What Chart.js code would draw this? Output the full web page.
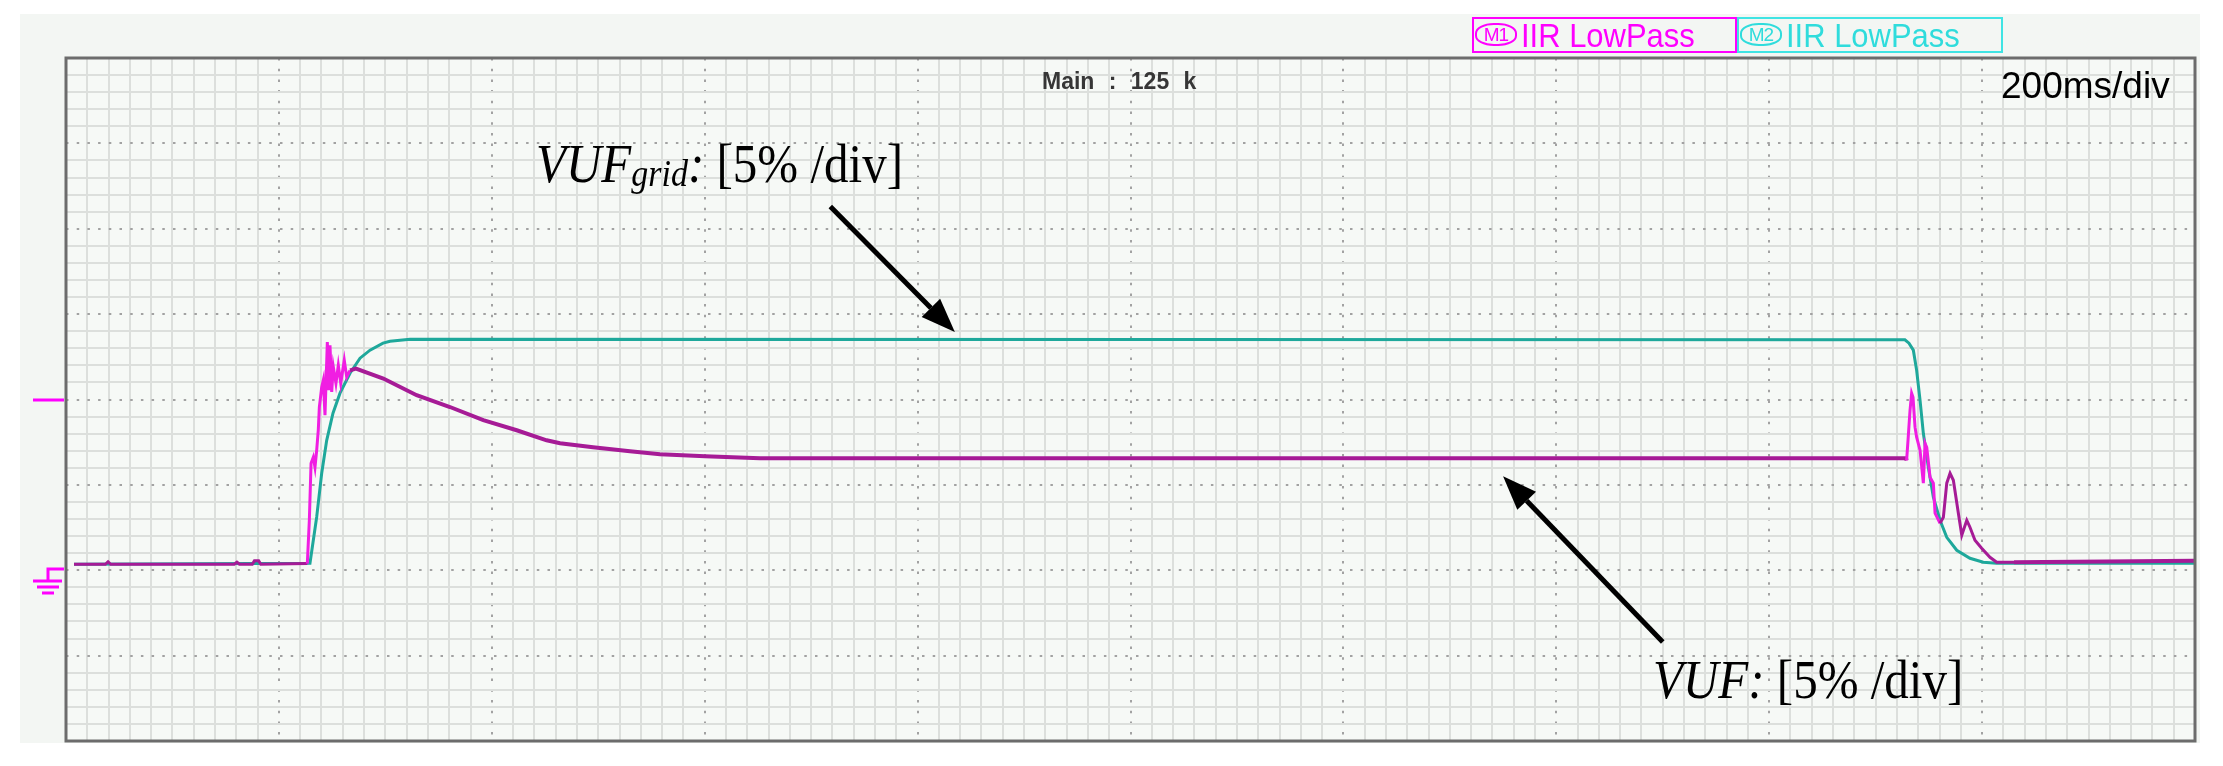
<!DOCTYPE html>
<html>
<head>
<meta charset="utf-8">
<title>VUF / VUF grid - scope capture</title>
<script src="https://cdn.jsdelivr.net/npm/chart.js@4.4.1/dist/chart.umd.min.js"></script>
<style>
    html, body { margin: 0; padding: 0; background: #fff; }
    #wrap { position: relative; width: 2223px; height: 766px; overflow: hidden; }
    #panel { position: absolute; left: 20px; top: 14px; width: 2180px; height: 729px; background: #f3f6f3; }
    #scope { position: absolute; left: 0; top: 0; }
    .lbl { position: absolute; white-space: pre; line-height: 1; }

    /* oscilloscope screen texts */
    #timebase { left: 2001px; top: 65px; font: 37px 'Liberation Sans', Arial, sans-serif; color: #000; }
    #mainrate { left: 1042px; top: 68px; font: bold 23px 'Liberation Sans', Arial, sans-serif; color: #363636; word-spacing: 8px; }
    .mbox { position: absolute; top: 17px; height: 36px; box-sizing: border-box; border: 2px solid; }
    #m1 { left: 1472px; width: 265px; border-color: #ff00ff; color: #ff00ff; }
    #m2 { left: 1737px; width: 266px; border-color: #3fe4e4; color: #2fdcdc; }
    .mbox .ico { position: absolute; left: 1px; top: 4px; width: 42px; height: 23px; box-sizing: border-box;
                 border: 2px solid currentColor; border-radius: 45%; text-align: center; letter-spacing: -1px;
                 font: 19px 'Liberation Sans Narrow', 'Liberation Sans', Arial, sans-serif; line-height: 19px; }
    .mbox .txt { position: absolute; left: 47px; top: -1px; font: 34px 'Liberation Sans', Arial, sans-serif;
                 line-height: 1; white-space: pre; transform: scaleX(0.91); transform-origin: 0 0; }

    /* figure annotations */
    .serif { font-family: 'Liberation Serif', 'Times New Roman', serif; font-size: 49px; color: #000;
             transform: scaleY(1.12); transform-origin: 0 41px; }
    .serif i { font-style: italic; }
    .serif .sub { font-size: 34px; font-style: italic; position: relative; top: 4px; }
    #lblGrid { left: 536px; top: 141px; }
    #lblVuf { left: 1653px; top: 657px; }
</style>
</head>
<body>
<div id="wrap">
    <div id="panel"></div>
    <canvas id="scope" width="2223" height="766"></canvas>

    <div class="mbox" id="m1"><span class="ico">M1</span><span class="txt">IIR LowPass</span></div>
    <div class="mbox" id="m2"><span class="ico">M2</span><span class="txt">IIR LowPass</span></div>
    <div class="lbl" id="mainrate">Main : 125 k</div>
    <div class="lbl" id="timebase">200ms/div</div>
    <div class="lbl serif" id="lblGrid"><i>VUF</i><span class="sub">grid</span><i>:</i> [5% /div]</div>
    <div class="lbl serif" id="lblVuf"><i>VUF</i><i>:</i> [5% /div]</div>
</div>

<script>
// 시간축: ms (200 ms/div, 10 div), 세로축: % (5 %/div, 접지 = 0)
const TIME_MIN = 0, TIME_MAX = 2000, TIME_PER_DIV = 200, TIME_MINOR = 20;
const VUF_MIN = -10, VUF_MAX = 30, VUF_PER_DIV = 5, VUF_MINOR = 1;
const TRIGGER_LEVEL = 10;
const GROUND_LEVEL = 0;

// VUF (magenta, M1)
const vufTime = [
    7.5, 37, 39.5, 42, 158, 160.6, 163, 175, 177, 181, 183,
    226.7, 228.6, 230.2, 232.3, 233.9, 235.5, 237.0, 238.0, 240.2, 241.7,
    243.3, 245.5, 246.8, 248.0, 249.6, 251.1, 253.6, 255.8, 258.1, 261.4, 263.7, 266.8,
    272.4, 298.1, 329.4, 360.7, 392.0, 423.4, 451.5, 464.1, 495.1, 529.8, 558.0, 600.3, 651.9,
    1728.5, 1729.1, 1730.4, 1732.3, 1733.8, 1735.1, 1737.0, 1738.5, 1741.7, 1744.8,
    1746.4, 1748.0, 1751.1, 1754.2, 1755.8, 1760.5, 1763.6, 1766.8, 1769.9, 1773.0,
    1777.7, 1780.9, 1785.6, 1788.6, 1793.3, 1799.6, 1807.4, 1813.7, 1830, 2000
];
const vufValues = [
    0.35, 0.35, 0.5, 0.35, 0.35, 0.47, 0.35, 0.35, 0.55, 0.55, 0.35,
    0.39, 2.93, 6.27, 6.62, 6.03, 7.03, 8.2, 9.55, 10.72, 11.13,
    9.08, 13.37, 10.54, 13.18, 10.44, 11.91, 10.95, 12.0, 10.95, 12.3, 11.32, 11.71,
    11.81, 11.23, 10.25, 9.56, 8.79, 8.2, 7.61, 7.44, 7.2, 6.97, 6.79, 6.68, 6.56,
    6.56, 6.44, 7.61, 9.37, 10.37, 10.13, 8.38, 7.79, 7.03, 5.1,
    7.44, 7.2, 5.45, 5.1, 3.34, 2.75, 3.1, 5.1, 5.68, 5.27,
    3.34, 2.05, 2.93, 2.52, 1.76, 1.29, 0.76, 0.47, 0.47, 0.55
];

// VUF_grid (teal, M2)
const gridTime = [
    7.5, 229.2, 235.5, 240.2, 244.9, 250.8, 257.4, 266.8, 276.2, 285.6, 297.8, 304.4, 323.2,
    1727.5, 1731.3, 1735.4, 1738.5, 1741.7, 1744.8, 1749.5, 1754.2, 1760.5, 1766.8, 1776.2,
    1788.6, 1801.1, 1813.7, 2000
];
const gridValues = [
    0.35, 0.41, 3.12, 5.68, 7.61, 9.2, 10.37, 11.54, 12.42, 12.89, 13.3, 13.41, 13.53,
    13.5, 13.3, 12.89, 11.71, 9.96, 8.02, 6.03, 4.28, 2.93, 1.93, 1.17,
    0.7, 0.47, 0.41, 0.41
];

// 스타일
const VUF_COLOR = '#a61b96';
const VUF_BRIGHT = '#f01ee2';
const GRID_COLOR = '#1ea89b';
const MAGENTA = '#ff00ff';
const PLOT_BG = '#f6f9f6';
const MINOR_GRID = '#dcdfdc';
const MAJOR_GRID = '#a2a2a2';
const BRIGHT_RANGES = [[226, 264], [1729, 1760]];   // 과도 구간은 밝은 색
const RIPPLE_RANGES = [[264, 1729], [1815, 2000]];  // 100 Hz 리플로 굵게 보이는 구간

const inRanges = (x, ranges) => ranges.some(r => x >= r[0] && x < r[1]);
const toPoints = (xs, ys) => xs.map((x, i) => ({ x: x, y: ys[i] }));

// 화살표 주석 (데이터 좌표)
const ARROWS = [
    { from: [718, 21.3], to: [835, 13.95] },
    { from: [1500, -4.2], to: [1350, 5.5] }
];

function drawArrow(ctx, x1, y1, x2, y2) {
    const ang = Math.atan2(y2 - y1, x2 - x1);
    const headLen = 34, headHalf = 13;
    const bx = x2 - headLen * Math.cos(ang), by = y2 - headLen * Math.sin(ang);
    ctx.lineWidth = 5;
    ctx.beginPath(); ctx.moveTo(x1, y1); ctx.lineTo(bx, by); ctx.stroke();
    ctx.beginPath();
    ctx.moveTo(x2, y2);
    ctx.lineTo(bx - headHalf * Math.sin(ang), by + headHalf * Math.cos(ang));
    ctx.lineTo(bx + headHalf * Math.sin(ang), by - headHalf * Math.cos(ang));
    ctx.closePath();
    ctx.fill();
}

function seg(ctx, x1, y1, x2, y2) {
    ctx.beginPath(); ctx.moveTo(x1, y1); ctx.lineTo(x2, y2); ctx.stroke();
}

const scopeDecor = {
    id: 'scopeDecor',
    beforeDraw(chart) {
        const { ctx, chartArea: a } = chart;
        ctx.save();
        ctx.fillStyle = PLOT_BG;
        ctx.fillRect(a.left, a.top, a.right - a.left, a.bottom - a.top);
        ctx.restore();
    },
    afterDraw(chart) {
        const { ctx, chartArea: a, scales } = chart;
        const xs = scales.x, ys = scales.y;
        ctx.save();
        // 화면 테두리
        ctx.strokeStyle = '#6c6c6c';
        ctx.lineWidth = 3;
        ctx.strokeRect(a.left, a.top, a.right - a.left, a.bottom - a.top);

        // 트리거 레벨, 접지 표시
        ctx.strokeStyle = MAGENTA;
        ctx.lineWidth = 3;
        const yt = Math.round(ys.getPixelForValue(TRIGGER_LEVEL));
        seg(ctx, a.left - 33, yt, a.left - 2, yt);
        const yg = Math.round(ys.getPixelForValue(GROUND_LEVEL));
        ctx.beginPath();
        ctx.moveTo(a.left - 2, yg - 1);
        ctx.lineTo(a.left - 18, yg - 1);
        ctx.lineTo(a.left - 18, yg + 11);
        ctx.stroke();
        seg(ctx, a.left - 33, yg + 11, a.left - 4, yg + 11);
        seg(ctx, a.left - 29, yg + 17, a.left - 7, yg + 17);
        seg(ctx, a.left - 24, yg + 23, a.left - 12, yg + 23);

        // 화살표
        ctx.strokeStyle = '#000';
        ctx.fillStyle = '#000';
        ARROWS.forEach(ar => drawArrow(ctx,
            xs.getPixelForValue(ar.from[0]), ys.getPixelForValue(ar.from[1]),
            xs.getPixelForValue(ar.to[0]), ys.getPixelForValue(ar.to[1])));
        ctx.restore();
    }
};

const hiddenTicks = { display: false, autoSkip: false, maxTicksLimit: 500 };

new Chart(document.getElementById('scope'), {
    type: 'line',
    data: {
        datasets: [
            {
                label: 'VUF',
                data: toPoints(vufTime, vufValues),
                borderColor: VUF_COLOR,
                borderWidth: 3,
                pointRadius: 0,
                tension: 0,
                segment: {
                    borderColor: c => inRanges(c.p0.parsed.x, BRIGHT_RANGES) ? VUF_BRIGHT : VUF_COLOR,
                    borderWidth: c => inRanges(c.p0.parsed.x, RIPPLE_RANGES) ? 4 : 3
                }
            },
            {
                label: 'VUF grid',
                data: toPoints(gridTime, gridValues),
                borderColor: GRID_COLOR,
                borderWidth: 3,
                pointRadius: 0,
                tension: 0
            }
        ]
    },
    options: {
        responsive: false,
        animation: false,
        devicePixelRatio: 1,
        layout: { padding: { left: 66, top: 58, right: 28, bottom: 25 } },
        plugins: { legend: { display: false }, tooltip: { enabled: false } },
        scales: {
            x: {
                type: 'linear', position: 'bottom', min: TIME_MIN, max: TIME_MAX,
                ticks: { ...hiddenTicks, stepSize: TIME_MINOR },
                grid: {
                    drawTicks: false, lineWidth: 2,
                    color: c => Math.round(c.tick.value) % TIME_PER_DIV === 0 ? 'rgba(0,0,0,0)' : MINOR_GRID
                },
                border: { display: false }
            },
            xMajor: {
                type: 'linear', position: 'bottom', min: TIME_MIN, max: TIME_MAX,
                ticks: { ...hiddenTicks, stepSize: TIME_PER_DIV },
                grid: { drawTicks: false, lineWidth: 2, color: MAJOR_GRID },
                border: { display: false, dash: [2.5, 8.2] }
            },
            y: {
                type: 'linear', position: 'left', min: VUF_MIN, max: VUF_MAX,
                ticks: { ...hiddenTicks, stepSize: VUF_MINOR },
                grid: {
                    drawTicks: false, lineWidth: 2,
                    color: c => Math.round(c.tick.value) % VUF_PER_DIV === 0 ? 'rgba(0,0,0,0)' : MINOR_GRID
                },
                border: { display: false }
            },
            yMajor: {
                type: 'linear', position: 'left', min: VUF_MIN, max: VUF_MAX,
                ticks: { ...hiddenTicks, stepSize: VUF_PER_DIV },
                grid: { drawTicks: false, lineWidth: 2, color: MAJOR_GRID },
                border: { display: false, dash: [2.5, 8.2] }
            }
        }
    },
    plugins: [scopeDecor]
});
</script>
</body>
</html>
